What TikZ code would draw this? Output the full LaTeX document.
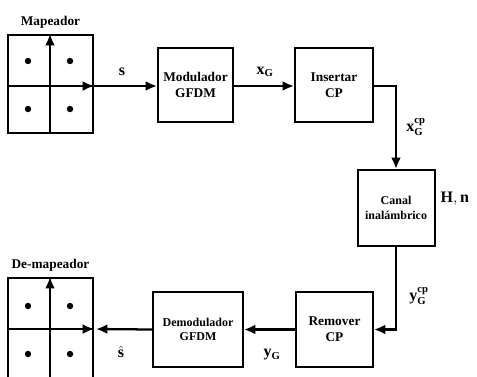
\documentclass[tikz,border=0pt]{standalone}
\usepackage{amsmath,amssymb}
\usepackage{fontspec}
\setmainfont{Liberation Serif}
\usetikzlibrary{calc,arrows.meta}

\tikzset{
  blk/.style={draw,line width=1.5pt,align=center,font=\bfseries,inner sep=1pt},
  conn/.style={line width=1.7pt,-{Latex[length=3mm,width=2.6mm]}},
  lbl/.style={font=\bfseries\large}
}

\begin{document}
\begin{tikzpicture}[x=0.75pt,y=-0.75pt]
  \clip (0,0) rectangle (477,376);

  % constellation boxes
  \node[blk,minimum width=85*0.75pt,minimum height=98*0.75pt] (map)   at (50.5,84)  {};
  \node[blk,minimum width=85*0.75pt,minimum height=102*0.75pt] (demap) at (50.5,329) {};
  \node[font=\bfseries,above=1pt] (maplbl)   at (map.north)   {Mapeador};
  \node[font=\bfseries,above=1pt] (demaplbl) at (demap.north) {De-mapeador};

  % axes + points
  \foreach \b/\yc in {map/86,demap/329} {
    \draw[line width=1.4pt] (\b.west |- 0,\yc) -- (\b.east |- 0,\yc);
    \draw[line width=1.4pt,-{Latex[length=3mm,width=2.6mm]}] (\b.south -| 50,0) -- (\b.north -| 50,0);
    \draw[line width=1.4pt,-{Latex[length=3mm,width=2.6mm]}] (50,\yc) -- (\b.east |- 0,\yc);
  }
  \foreach \x in {28,70} {
    \foreach \y in {61,109,306,354} {
      \fill (\x,\y) circle (2.4pt);
    }
  }

  % processing blocks
  \node[blk,minimum width=75*0.75pt,minimum height=74*0.75pt] (mod)   at (195.5,85)  {Modulador\\GFDM};
  \node[blk,minimum width=78*0.75pt,minimum height=74*0.75pt] (ins)   at (334,85)    {Insertar\\CP};
  \node[blk,minimum width=77*0.75pt,minimum height=76*0.75pt,font=\bfseries\small] (canal) at (396,208) {Canal\\inalámbrico};
  \node[blk,minimum width=77*0.75pt,minimum height=75*0.75pt] (rem)   at (334.5,329.5) {Remover\\CP};
  \node[blk,minimum width=90*0.75pt,minimum height=75*0.75pt,font=\bfseries\small] (demod) at (198,329.5) {Demodulador\\GFDM};

  % connectors
  \draw[conn] (map.east |- 0,86) -- (mod.west |- 0,86);
  \draw[conn] (mod.east |- 0,86) -- (ins.west |- 0,86);
  \draw[conn] (ins.east |- 0,86) -| (canal.north);
  \draw[conn] (canal.south) |- (rem.east);
  \draw[conn] (rem.west) -- (demod.east);
  \draw[conn] (demod.west) -- ($(demap.east)+(2,0)$);

  % signal labels
  \node[lbl] (s)    at (122,72)  {$\mathbf{s}$};
  \node[lbl] (xg)   at (265,72)  {$\mathbf{x}_{\mathbf{G}}$};
  \node[lbl] (xgcp) at (416,127) {$\mathbf{x}_{\mathbf{G}}^{\mathbf{cp}}$};
  \node[lbl,anchor=west,inner sep=1pt] (hn) at (439,199) {$\mathbf{H},\mathbf{n}$};
  \node[lbl] (ygcp) at (419,296) {$\mathbf{y}_{\mathbf{G}}^{\mathbf{cp}}$};
  \node[lbl] (yg)   at (272,355) {$\mathbf{y}_{\mathbf{G}}$};
  \node[lbl] (shat) at (121,352) {$\hat{\mathbf{s}}$};
\end{tikzpicture}
\end{document}
